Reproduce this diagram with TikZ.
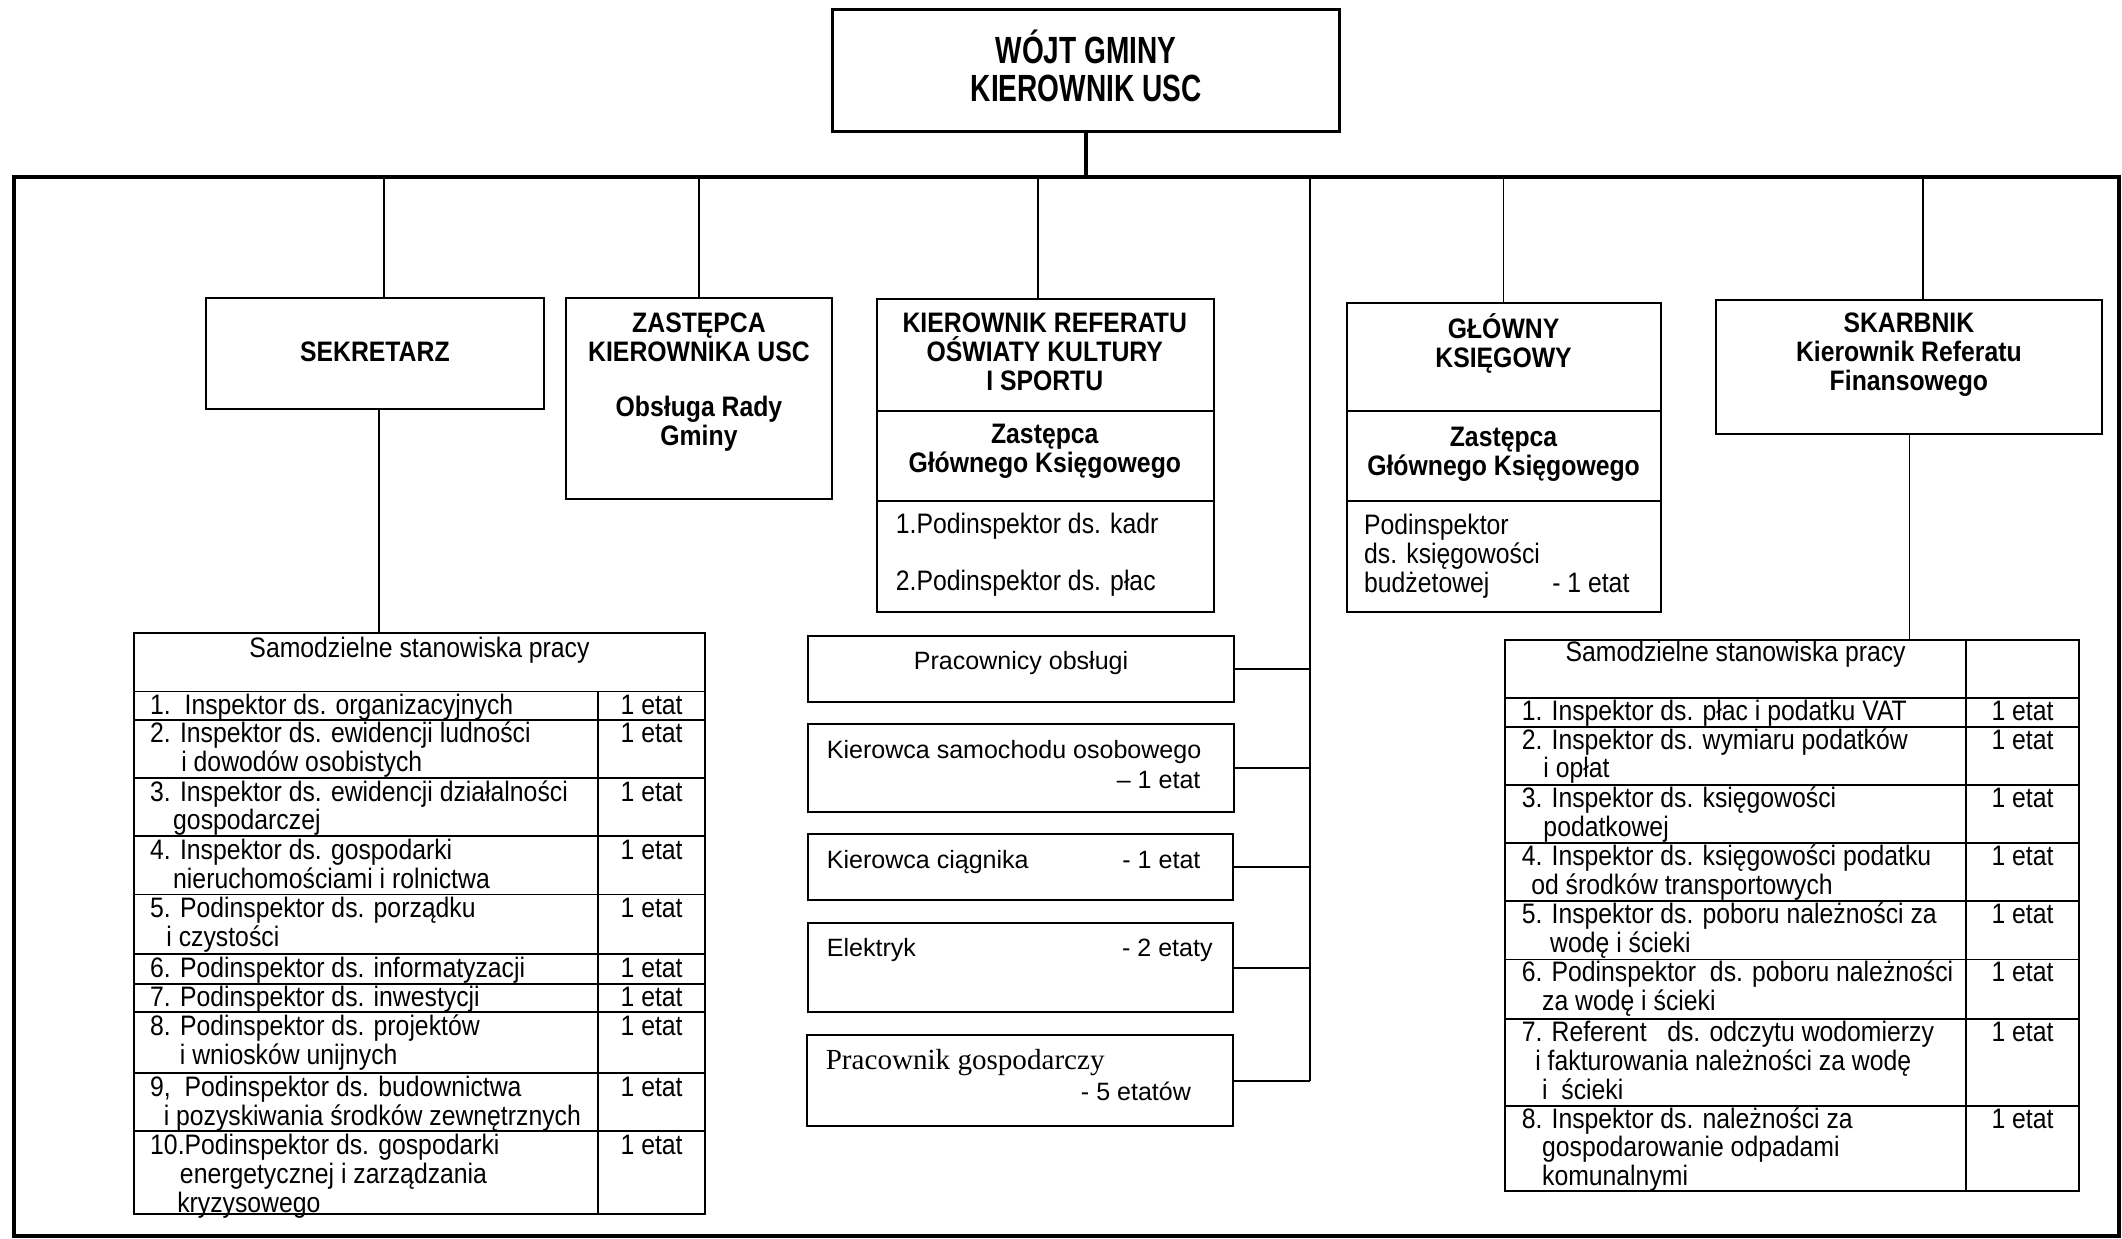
\documentclass[tikz,border=0pt]{standalone}
\usepackage{fontspec}
\setmainfont{Liberation Sans}[FakeStretch=0.88]
\newfontfamily\widefont{Liberation Sans}
\newfontfamily\titlefont{Liberation Sans}[FakeStretch=0.74]
\newfontfamily\serffont{Liberation Serif}
\newcommand\st{\rule{0pt}{20pt}}
\newcommand\tst{\rule{0pt}{26pt}}
\begin{document}
\begin{tikzpicture}[x=1pt,y=-1pt,
  box/.style={draw, line width=1.5pt, inner sep=0pt, outer sep=0pt, anchor=north west},
  tl/.style={line width=1.4pt},
  conn/.style={line width=1.3pt},
  heavy/.style={line width=3pt},
  txt/.style={font=\fontsize{20.8}{21.3}\selectfont, inner sep=0pt, outer sep=0pt},
  hdr/.style={txt, font=\fontsize{20.8}{21.3}\selectfont\bfseries, align=center, anchor=north},
  cell/.style={txt, align=left, anchor=north west},
  etat/.style={txt, anchor=base},
  srv/.style={font=\widefont\fontsize{18.5}{21}\selectfont, inner sep=0pt, outer sep=0pt},
]
\fill[white] (0,0) rectangle (1568,915);
\useasboundingbox (0,0) rectangle (1568,915);

% top
\node[box, line width=2pt, minimum width=375pt, minimum height=90pt] (wojt) at (615,7) {};
\node[font=\titlefont\fontsize{28}{27.5}\selectfont\bfseries, align=center, anchor=north, inner sep=0pt] (wojtT) at (802.5,21) {\tst WÓJT GMINY\\KIEROWNIK USC};

% frame
\node[box, line width=3pt, minimum width=1556pt, minimum height=782pt] (frame) at (10,131) {};

% SEKRETARZ
\node[box, minimum width=250pt, minimum height=82pt] (sek) at (152,220) {};
\node[hdr, anchor=base] (sekT) at (sek.center |- 0,267) {SEKRETARZ};

% ZASTEPCA
\node[box, minimum width=197pt, minimum height=149pt] (zast) at (418,220) {};
\node[hdr] (zastT) at (zast.center |- 0,226) {\st ZASTĘPCA\\KIEROWNIKA USC\\[19pt]Obsługa Rady\\Gminy};

% KIEROWNIK REFERATU
\node[box, minimum width=249pt, minimum height=83pt] (kr1) at (648,221) {};
\node[box, minimum width=249pt, minimum height=66pt] (kr2) at (648,304) {};
\node[box, minimum width=249pt, minimum height=82pt] (kr3) at (648,370) {};
\node[hdr] (kr1T) at (772,226) {\st KIEROWNIK REFERATU\\OŚWIATY KULTURY\\I SPORTU};
\node[hdr] (kr2T) at (772,307.5) {\st Zastępca\\Głównego Księgowego};
\node[cell] (kr3T) at (662,374) {\st 1.Podinspektor ds. kadr\\[21.3pt]2.Podinspektor ds. płac};

% GLOWNY KSIEGOWY
\node[box, minimum width=232pt, minimum height=80pt] (gk1) at (995,224) {};
\node[box, minimum width=232pt, minimum height=66pt] (gk2) at (995,304) {};
\node[box, minimum width=232pt, minimum height=82pt] (gk3) at (995,370) {};
\node[hdr] (gk1T) at (1111,230) {\st GŁÓWNY\\KSIĘGOWY};
\node[hdr] (gk2T) at (1111,310) {\st Zastępca\\Głównego Księgowego};
\node[cell] (gk3T) at (1008,375) {\st Podinspektor\\ds. księgowości\\budżetowej};
\node[etat, anchor=base east] (gk3E) at (1204,437.6) {- 1 etat};

% SKARBNIK
\node[box, minimum width=285pt, minimum height=99pt] (skarb) at (1268,222) {};
\node[hdr] (skarbT) at (1410.5,226) {\st SKARBNIK\\Kierownik Referatu\\Finansowego};

% service boxes
\node[box, minimum width=315pt, minimum height=49pt] (po) at (597,470) {};
\node[box, minimum width=315pt, minimum height=65pt] (ks) at (597,535) {};
\node[box, minimum width=314pt, minimum height=49pt] (kc) at (597,616) {};
\node[box, minimum width=314pt, minimum height=66pt] (el) at (597,682) {};
\node[box, minimum width=315pt, minimum height=67pt] (pg) at (596,765) {};
\node[srv, anchor=base] (poT) at (po.center |- 0,495) {Pracownicy obsługi};
\node[srv, anchor=base west] (ksT) at (611,560.5) {Kierowca samochodu osobowego};
\node[srv, anchor=base east] (ksE) at (887,582.5) {– 1 etat};
\node[srv, anchor=base west] (kcT) at (611,641.5) {Kierowca ciągnika};
\node[srv, anchor=base east] (kcE) at (887,641.5) {- 1 etat};
\node[srv, anchor=base west] (elT) at (611,707) {Elektryk};
\node[srv, anchor=base east] (elE) at (896,707) {- 2 etaty};
\node[font=\serffont\fontsize{21.5}{24}\selectfont, inner sep=0pt, anchor=base west] (pgT) at (610,790) {Pracownik gospodarczy};
\node[srv, anchor=base east] (pgE) at (880,813.5) {- 5 etatów};

% left table
\node[box, line width=1.4pt, minimum width=422pt, minimum height=429pt] (ltab) at (99,468) {};
\foreach \y in {511,532,575,618,661,705,727,748,793,836}
  \draw[tl] (ltab.west |- 0,\y) -- (ltab.east |- 0,\y);
\draw[tl] (442,511) -- (442,0 |- ltab.south);
\node[txt, align=center, anchor=north] (lhdr) at (310,466) {\st Samodzielne stanowiska pracy};
\node[cell] (l1) at (111,508) {\st 1.\ \ Inspektor ds. organizacyjnych};
\node[cell] (l2) at (111,529) {\st 2. Inspektor ds. ewidencji ludności\\\hspace*{23pt}i dowodów osobistych};
\node[cell] (l3) at (111,572) {\st 3. Inspektor ds. ewidencji działalności\\\hspace*{17pt}gospodarczej};
\node[cell] (l4) at (111,615) {\st 4. Inspektor ds. gospodarki\\\hspace*{17pt}nieruchomościami i rolnictwa};
\node[cell] (l5) at (111,658) {\st 5. Podinspektor ds. porządku\\\hspace*{12pt}i czystości};
\node[cell] (l6) at (111,702) {\st 6. Podinspektor ds. informatyzacji};
\node[cell] (l7) at (111,724) {\st 7. Podinspektor ds. inwestycji};
\node[cell] (l8) at (111,745) {\st 8. Podinspektor ds. projektów\\\hspace*{22pt}i wniosków unijnych};
\node[cell] (l9) at (111,790) {\st 9,\ \ Podinspektor ds. budownictwa\\\hspace*{10pt}i pozyskiwania środków zewnętrznych};
\node[cell] (l10) at (111,833) {\st 10.Podinspektor ds. gospodarki\\\hspace*{22pt}energetycznej i zarządzania\\\hspace*{20pt}kryzysowego};
\foreach \y [count=\i] in {528,549,592,635,678,722,744,765,810,853}
  \node[etat] (le\i) at (481.5,\y) {1 etat};

% right table
\node[box, line width=1.4pt, minimum width=424pt, minimum height=407pt] (rtab) at (1112,473) {};
\foreach \y in {516,537,580,623,666,709,753,817}
  \draw[tl] (rtab.west |- 0,\y) -- (rtab.east |- 0,\y);
\draw[tl] (1453,0 |- rtab.north) -- (1453,0 |- rtab.south);
\node[txt, align=center, anchor=north] (rhdr) at (1282.5,469) {\st Samodzielne stanowiska pracy};
\node[cell] (r1) at (1124.5,512.5) {\st 1. Inspektor ds. płac i podatku VAT};
\node[cell] (r2) at (1124.5,533.5) {\st 2. Inspektor ds. wymiaru podatków\\\hspace*{16pt}i opłat};
\node[cell] (r3) at (1124.5,576.5) {\st 3. Inspektor ds. księgowości\\\hspace*{16pt}podatkowej};
\node[cell] (r4) at (1124.5,619.5) {\st 4. Inspektor ds. księgowości podatku\\\hspace*{7pt}od środków transportowych};
\node[cell] (r5) at (1124.5,662.5) {\st 5. Inspektor ds. poboru należności za\\\hspace*{21pt}wodę i ścieki};
\node[cell] (r6) at (1124.5,705.5) {\st 6. Podinspektor\ \ ds. poboru należności\\\hspace*{15pt}za wodę i ścieki};
\node[cell] (r7) at (1124.5,749.5) {\st 7. Referent\ \ \ ds. odczytu wodomierzy\\\hspace*{10pt}i fakturowania należności za wodę\\\hspace*{15pt}i\ \ ścieki};
\node[cell] (r8) at (1124.5,813.5) {\st 8. Inspektor ds. należności za\\\hspace*{15pt}gospodarowanie odpadami\\\hspace*{15pt}komunalnymi};
\foreach \y [count=\i] in {532.5,553.5,596.5,639.5,682.5,725.5,769.5,833.5}
  \node[etat] (re\i) at (1494.5,\y) {1 etat};

% connectors
\draw[heavy] (wojt.south) -- (wojt.south |- frame.north);
\draw[conn] (284,0 |- frame.north) -- (284,0 |- sek.north);
\draw[conn] (zast.north |- frame.north) -- (zast.north);
\draw[conn] (767,0 |- frame.north) -- (767,0 |- kr1.north);
\draw[conn] (968,0 |- frame.north) -- (968,0 |- pg.east);
\draw[conn] (gk1.north |- frame.north) -- (gk1.north);
\draw[conn] (1421,0 |- frame.north) -- (1421,0 |- skarb.north);
\draw[conn] (280,0 |- sek.south) -- (280,0 |- ltab.north);
\draw[conn] (1411,0 |- skarb.south) -- (1411,0 |- rtab.north);
\foreach \n in {po,ks,kc,el,pg}
  \draw[conn] (\n.east) -- (\n.east -| 968,0);
\end{tikzpicture}
\end{document}
